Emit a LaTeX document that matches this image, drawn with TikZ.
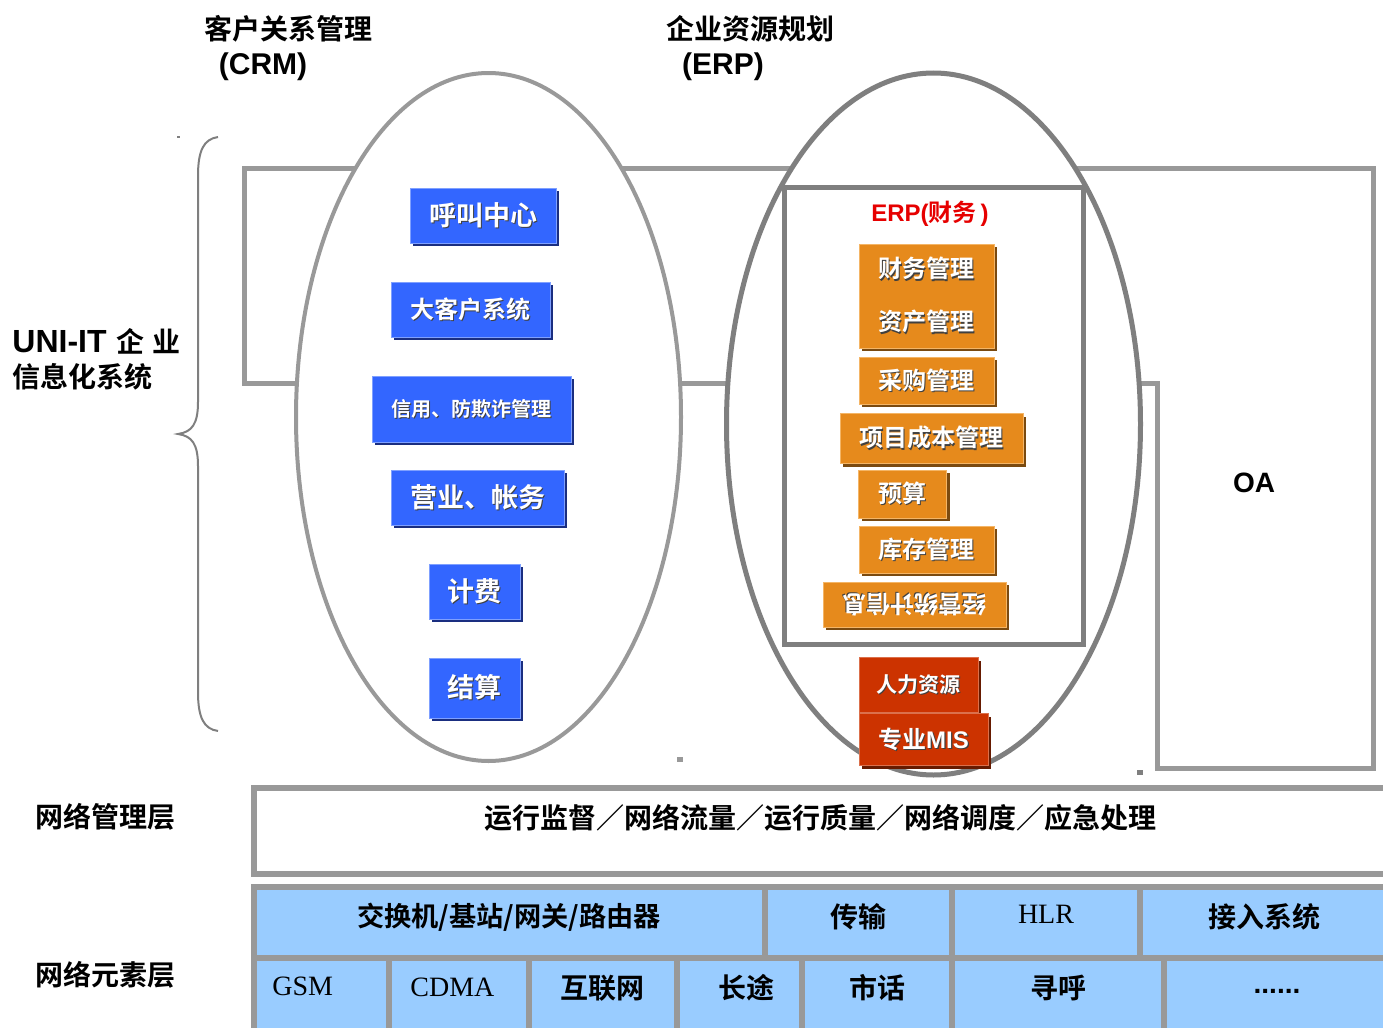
\documentclass[tikz,border=0pt]{standalone}
\usepackage{fontspec}
\setmainfont{Noto Sans CJK SC}[BoldFont={Noto Sans CJK SC Bold}]
\newfontfamily\arialfont{Liberation Sans}
\newfontfamily\timesfont{Liberation Serif}
\usetikzlibrary{shadows}
\definecolor{boxblue}{HTML}{3366FF}
\definecolor{boxblueedge}{HTML}{7FA0FF}
\definecolor{boxblueshadow}{HTML}{1A2E80}
\definecolor{boxorange}{HTML}{E68A1C}
\definecolor{boxorangeedge}{HTML}{F4B566}
\definecolor{boxorangeshadow}{HTML}{7A4A10}
\definecolor{boxred}{HTML}{CC3300}
\definecolor{boxredshadow}{HTML}{661A00}
\definecolor{cellblue}{HTML}{99CCFF}
\definecolor{linegray}{HTML}{999999}
\definecolor{framegray}{HTML}{7F7F7F}
\definecolor{erpred}{HTML}{E60000}
\newcommand\fsz[1]{\fontsize{#1}{#1}\selectfont}
\newcommand\shadowed[1]{\leavevmode\rlap{\kern0.6pt\raisebox{-0.6pt}{\textcolor{black!75}{#1}}}#1}

\begin{document}
\begin{tikzpicture}[x=0.5pt, y=-0.5pt,
    bluebox/.style={draw=boxblueedge, fill=boxblue, line width=0.5pt, text=white, inner sep=0pt,
        drop shadow={shadow xshift=1.5pt, shadow yshift=-1.5pt, fill=boxblueshadow, opacity=1}},
    orangebox/.style={draw=boxorangeedge, fill=boxorange, line width=0.5pt, text=white, inner sep=0pt,
        font=\bfseries\fsz{12}, drop shadow={shadow xshift=1.5pt, shadow yshift=-1.5pt, fill=boxorangeshadow, opacity=1}},
    redbox/.style={draw=boxred!70!white, fill=boxred, line width=0.5pt, text=white, inner sep=0pt,
        drop shadow={shadow xshift=1.5pt, shadow yshift=-1.5pt, fill=boxredshadow, opacity=1}},
    cell/.style={draw=linegray, line width=3pt, fill=cellblue, inner sep=0pt},
    title/.style={font=\bfseries\fsz{14}, inner sep=0pt},
    celltext/.style={font=\bfseries\fsz{14}, inner sep=0pt},
    ]
    \clip (0,0) rectangle (1383,1028);
    \fill[white] (0,0) rectangle (1383,1028);

    \node[title] (crmtitle) at (288,29) {客户关系管理};
    \node[title] (crmabbr) at (263,67) {{\arialfont\fsz{15}(CRM)}};
    \node[title] (erptitle) at (750,29) {企业资源规划};
    \node[title] (erpabbr) at (723,67) {{\arialfont\fsz{15}(ERP)}};
    \node[title, anchor=west] (unilabel) at (12,341) {{\arialfont\fsz{16}UNI-IT}\hspace{5pt}企\hspace{4pt}业};
    \node[title, anchor=west] (infolabel) at (12,377) {信息化系统};

    \draw[framegray, line width=1pt] (218,137) .. controls (204,139) and (198,150) .. (198,176) -- (198,402)
        .. controls (198,424) and (192,432) .. (178,434) .. controls (192,436) and (198,444) .. (198,466)
        -- (198,692) .. controls (198,718) and (204,729) .. (218,731);
    \fill[framegray] (177,136) rectangle (180,138);

    \draw[linegray, line width=2.5pt] (244,168) -- (1373,168) -- (1373,768) -- (1157,768) -- (1157,383) -- (244,383) -- cycle;
    \draw[linegray, line width=2pt, fill=white] (488.5,417) ellipse [x radius=96.25pt, y radius=172pt];
    \draw[framegray, line width=2.5pt, fill=white] (933.5,424) ellipse [x radius=103.5pt, y radius=175.5pt];
    \node[draw=framegray, line width=2.5pt, minimum width=149.5pt, minimum height=228.5pt] (erpframe) at (933.5,415.5) {};
    \fill[linegray] (677,757) rectangle (683,762);
    \fill[framegray] (1137,770) rectangle (1143,775);

    \node[bluebox, minimum width=73pt, minimum height=27.5pt, font=\bfseries\fsz{13.5}] (callcenter) at (483,215.5) {\shadowed{呼叫中心}};
    \node[bluebox, minimum width=79.5pt, minimum height=27.5pt, font=\bfseries\fsz{12}] (bigclient) at (470.5,309.5) {\shadowed{大客户系统}};
    \node[bluebox, minimum width=99.5pt, minimum height=33pt, font=\bfseries\fsz{10}] (credit) at (471.5,409) {\shadowed{信用、防欺诈管理}};
    \node[bluebox, minimum width=86.5pt, minimum height=27.5pt, font=\bfseries\fsz{13.5}] (business) at (477.5,497.5) {\shadowed{营业、帐务}};
    \node[bluebox, minimum width=45.5pt, minimum height=27.5pt, font=\bfseries\fsz{13.5}] (billing) at (474.5,591.5) {\shadowed{计费}};
    \node[bluebox, minimum width=45.5pt, minimum height=30pt, font=\bfseries\fsz{13.5}] (settle) at (474.5,688) {\shadowed{结算}};

    \node[text=erpred, font=\bfseries\fsz{12}, inner sep=0pt] (erphead) at (930,214) {{\arialfont ERP(}财务{\arialfont\,)}};
    \node[orangebox, minimum width=67.5pt, minimum height=52pt, align=center, font=\bfseries\fontsize{12}{26.5}\selectfont] (finance) at (926.5,296) {\raisebox{-1.5pt}{\shadowed{财务管理}}\\\raisebox{-1.5pt}{\shadowed{资产管理}}};
    \node[orangebox, minimum width=67.5pt, minimum height=23.5pt] (purchase) at (926.5,380.5) {\shadowed{采购管理}};
    \node[orangebox, minimum width=91.5pt, minimum height=25pt] (project) at (931.5,438.5) {\shadowed{项目成本管理}};
    \node[orangebox, minimum width=44pt, minimum height=24pt] (budget) at (902.5,494) {\shadowed{预算}};
    \node[orangebox, minimum width=67.5pt, minimum height=23.5pt] (stock) at (926.5,549.5) {\shadowed{库存管理}};
    \node[orangebox, minimum width=91.5pt, minimum height=22.5pt] (statbox) at (914.5,604.5) {};
    \node[rotate=180, text=white, font=\bfseries\fsz{12}, inner sep=0pt] (stattext) at (statbox) {\shadowed{经营统计信息}};
    \node[redbox, minimum width=59.5pt, minimum height=27.5pt, font=\bfseries\fsz{10.5}] (hr) at (918.5,685) {\shadowed{人力资源}};
    \node[redbox, minimum width=64.5pt, minimum height=26pt, font=\bfseries\fsz{12}] (mis) at (923.5,739.5) {\shadowed{专业{\arialfont MIS}}};

    \node[title] (oa) at (1254,483) {{\arialfont OA}};

    \node[title] (mgmtlabel) at (105,817) {网络管理层};
    \node[title] (elemlabel) at (105,975) {网络元素层};
    \node[draw=linegray, line width=3pt, fill=white, minimum width=575pt, minimum height=43pt] (mgmtbar) at (829,831) {};
    \node[title] (mgmttext) at (820,818) {运行监督／网络流量／运行质量／网络调度／应急处理};

    \node[cell, minimum width=255.5pt, minimum height=35.5pt] (switchcell) at (509.5,922.5) {};
    \node[cell, minimum width=93.5pt, minimum height=35.5pt] (transcell) at (858.5,922.5) {};
    \node[cell, minimum width=94pt, minimum height=35.5pt] (hlrcell) at (1046,922.5) {};
    \node[cell, minimum width=140pt, minimum height=35.5pt] (accesscell) at (1280,922.5) {};
    \node[cell, minimum width=67.5pt, minimum height=51pt] (gsmcell) at (321.5,1009) {};
    \node[cell, minimum width=70pt, minimum height=51pt] (cdmacell) at (459,1009) {};
    \node[cell, minimum width=74pt, minimum height=51pt] (netcell) at (603,1009) {};
    \node[cell, minimum width=62.5pt, minimum height=51pt] (longcell) at (739.5,1009) {};
    \node[cell, minimum width=75pt, minimum height=51pt] (localcell) at (877,1009) {};
    \node[cell, minimum width=106pt, minimum height=51pt] (pagecell) at (1058,1009) {};
    \node[cell, minimum width=128pt, minimum height=51pt] (morecell) at (1292,1009) {};

    \node[celltext, font=\bfseries\fsz{13.6}] (switchtext) at (509,917) {交换机/基站/网关/路由器};
    \node[celltext] (transtext) at (858,917) {传输};
    \node[celltext, font=\timesfont\fsz{14}] (hlrtext) at (1046,914) {HLR};
    \node[celltext] (accesstext) at (1264,917) {接入系统};
    \node[celltext, anchor=west, font=\timesfont\fsz{14}] (gsmtext) at (272,986) {GSM};
    \node[celltext, anchor=west, font=\timesfont\fsz{14}] (cdmatext) at (410,987) {CDMA};
    \node[celltext] (nettext) at (602,988) {互联网};
    \node[celltext] (longtext) at (746,988) {长途};
    \node[celltext] (localtext) at (877,988) {市话};
    \node[celltext] (pagetext) at (1058,988) {寻呼};
    \node[celltext] (moretext) at (1277,991) {{\arialfont ......}};
\end{tikzpicture}
\end{document}
